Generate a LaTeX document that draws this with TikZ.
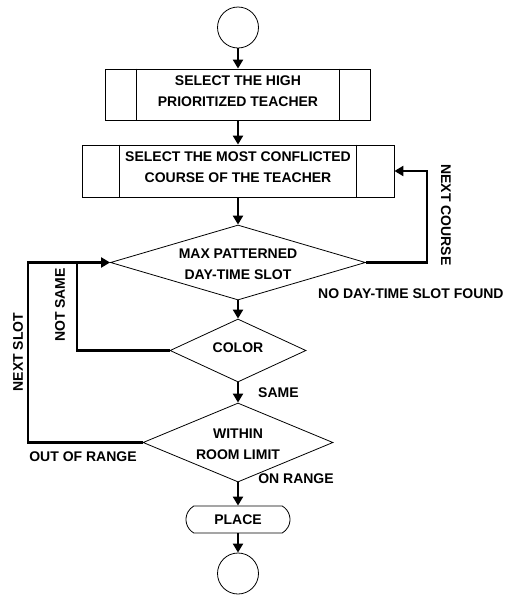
\documentclass[tikz,border=0pt]{standalone}
\usepackage{fontspec}
\setmainfont{Liberation Sans}
\usetikzlibrary{shapes.geometric,shapes.misc,arrows.meta}
\begin{document}
\begin{tikzpicture}[x=1pt,y=1pt,
  every node/.style={font=\fontsize{14}{21}\selectfont\bfseries},
  lbl/.style={inner sep=0pt},
  outline/.style={draw, line width=0.8pt},
  termc/.style={outline, circle, minimum size=41pt, inner sep=0pt},
  procbox/.style={outline, rectangle, inner sep=0pt},
  dec/.style={outline, diamond, inner sep=0pt},
  flow/.style={line width=2.2pt, -{Triangle[length=9pt,width=10pt]}},
  plain/.style={line width=2.2pt}]
\useasboundingbox (0,0) rectangle (508,-595);

\node[termc] (start) at (238,-27.5) {};
\node[procbox, minimum width=265pt, minimum height=51pt] (b1) at (238,-94.5) {};
\node[lbl, align=center] (b1t) at (238,-91) {SELECT THE HIGH\\PRIORITIZED TEACHER};
\draw[outline] ([xshift=31pt]b1.north west) -- ([xshift=31pt]b1.south west);
\draw[outline] ([xshift=-32pt]b1.north east) -- ([xshift=-32pt]b1.south east);
\node[procbox, minimum width=312pt, minimum height=52pt] (b2) at (238,-171) {};
\node[lbl, align=center] (b2t) at (238,-167) {SELECT THE MOST CONFLICTED\\COURSE OF THE TEACHER};
\draw[outline] ([xshift=38pt]b2.north west) -- ([xshift=38pt]b2.south west);
\draw[outline] ([xshift=-38pt]b2.north east) -- ([xshift=-38pt]b2.south east);

\node[dec, minimum width=255pt, minimum height=75pt] (d1) at (238,-262.5) {};
\node[lbl, align=center] (t1) at (238,-264) {MAX PATTERNED\\DAY-TIME SLOT};
\node[dec, minimum width=136pt, minimum height=63pt] (d2) at (238,-350.5) {};
\node[lbl] (t2) at (238,-348) {COLOR};
\node[dec, minimum width=190pt, minimum height=79pt] (d3) at (238,-442.5) {};
\node[lbl, align=center] (t3) at (238,-444) {WITHIN\\ROOM LIMIT};
\node[outline, rounded rectangle, rounded rectangle arc length=120, minimum width=104pt, minimum height=27pt, inner sep=0pt] (place) at (238,-519.5) {PLACE};
\node[termc] (end) at (238,-573.5) {};

\draw[flow] (start.south) -- (b1.north);
\draw[flow] (b1.south) -- (b2.north);
\draw[flow] (b2.south) -- (d1.north);
\draw[flow] (d1.south) -- (d2.north);
\draw[flow] (d2.south) -- (d3.north);
\draw[flow] (d3.south) -- (place.north);
\draw[flow] (place.south) -- (end.north);

\coordinate (rc) at (427,-171);
\coordinate (ls) at (28,-262.5);
\coordinate (lns) at (77,-262.5);
\draw[flow] (d1.east) -| (rc) -- (b2.east);
\draw[flow] (d3.west) -| (ls) -- (d1.west);
\draw[plain] (d2.west) -| (lns);

\node[lbl, rotate=-90] (lnc) at (446,-215) {NEXT COURSE};
\node[lbl, anchor=west] (lnf) at (318,-294) {NO DAY-TIME SLOT FOUND};
\node[lbl, rotate=90] (lnsm) at (60,-305) {NOT SAME};
\node[lbl, rotate=90] (lnsl) at (18,-352) {NEXT SLOT};
\node[lbl, anchor=west] (lsm) at (258,-393) {SAME};
\node[lbl] (lor) at (83,-457) {OUT OF RANGE};
\node[lbl] (lon) at (296,-479) {ON RANGE};
\end{tikzpicture}
\end{document}
